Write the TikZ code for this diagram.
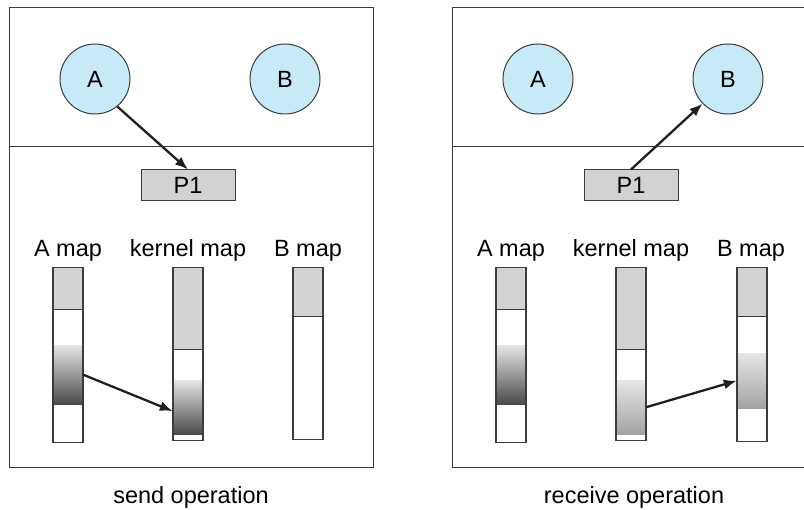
\documentclass[tikz,border=0pt]{standalone}
\usepackage{fontspec}
\setmainfont{Liberation Sans}
\usetikzlibrary{arrows.meta}
\newcommand{\msgArrow}{{Latex[length=13pt, width=10pt]}}
\definecolor{procblue}{HTML}{C8E9F8}
\definecolor{mapgray}{HTML}{D1D2D4}
\definecolor{linegray}{HTML}{3C3C3C}

\begin{document}
\begin{tikzpicture}[x=1pt, y=-1pt, font=\fontsize{23.5}{28}\selectfont,
	frame/.style={draw=linegray, line width=1pt},
	proc/.style={circle, draw=linegray, line width=1pt, fill=procblue, minimum size=70pt, inner sep=0pt},
	port/.style={rectangle, draw=linegray, line width=1pt, fill=mapgray, minimum width=94pt, minimum height=31pt, inner sep=0pt},
	bar/.style={rectangle, draw=linegray, line width=1.1pt, minimum width=30pt, inner sep=0pt, anchor=north},
	bartop/.style={bar, fill=mapgray},
	fade/.style={rectangle, minimum width=30pt, inner sep=0pt, anchor=north},
	darkfade/.style={fade, top color=black!10, bottom color=black!71},
	softfade/.style={fade, top color=black!10, bottom color=black!36},
	msg/.style={-\msgArrow, line width=2.3pt, draw=black!88}]
	\useasboundingbox (0,0) rectangle (804,510);
	
	% panels
	\foreach \side/\dx/\cap in {send/0/send operation, recv/443/receive operation} {
		\draw[frame]	(9+\dx,8) rectangle (373+\dx,468);
		\draw[frame]	(9+\dx,147) -- (373+\dx,147);
		\node[proc] (\side A) at (95+\dx,79) {A};
		\node[proc] (\side B) at (285+\dx,79) {B};
		\node[port] (\side P1) at (188+\dx,185.5) {P1};
		\node[anchor=base] (\side Amap) at (68+\dx,257) {A map};
		\node[anchor=base] (\side Kmap) at (188+\dx,257) {kernel map};
		\node[anchor=base] (\side Bmap) at (308+\dx,257) {B map};
		\node[anchor=base] (\side cap) at (191+\dx,504) {\cap};
	}
	
	% shaded regions
	\node[darkfade, minimum height=59pt] (sendAfade) at (68,345) {};
	\node[darkfade, minimum height=54pt] (sendKfade) at (188,380) {};
	\node[darkfade, minimum height=59pt] (recvAfade) at (511,345) {};
	\node[softfade, minimum height=54pt] (recvKfade) at (631,380) {};
	\node[softfade, minimum height=55pt] (recvBfade) at (752,353) {};
	
	% memory maps
	\foreach \name/\x/\gray/\bot in {sendA/68/309/442, sendK/188/349/440, sendB/308/316/439, recvA/511/309/442, recvK/631/349/440, recvB/752/316/441} {
		\node[bar, minimum height=\bot-267] (\name map) at (\x,267) {};
		\node[bartop, minimum height=\gray-267] (\name top) at (\x,267) {};
	}
	
	\draw[msg]	(sendA.-51) -- (sendP1.north);
	\draw[msg]	(sendAfade.east) -- ([yshift=-4pt]sendKfade.west);
	\draw[msg]	(recvP1.north) -- (recvB.224);
	\draw[msg]	(recvKfade.east) -- (recvBfade.west);
	
\end{tikzpicture}
\end{document}
